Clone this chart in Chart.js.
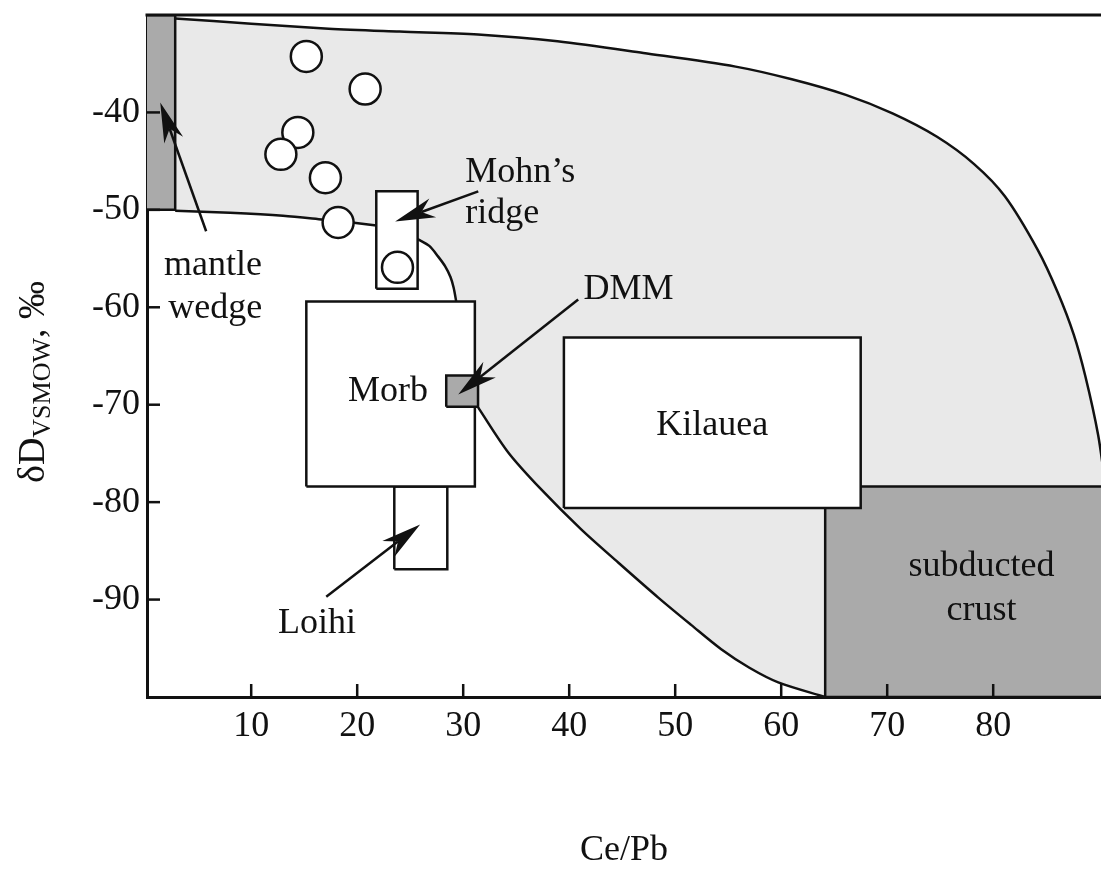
<!DOCTYPE html>
<html>
<head>
<meta charset="utf-8">
<script src="https://cdn.jsdelivr.net/npm/chart.js@4.4.1/dist/chart.umd.min.js"></script>
<style>
  html, body { margin: 0; padding: 0; background: #fff; overflow: hidden; }
  #wrap { width: 1101px; height: 869px; }
  canvas { display: block; }
</style>
</head>
<body>
<div id="wrap"><canvas id="chart" width="1101" height="869"></canvas></div>
<script>
const SERIF = '"Liberation Serif", "Times New Roman", serif';
const LIGHT = '#e9e9e9';
const DARK = '#aaaaaa';
const INK = '#111111';

const xTicks = [10, 20, 30, 40, 50, 60, 70, 80];
const yTicks = [-40, -50, -60, -70, -80, -90];

// outline of the shaded field, read as [Ce/Pb, dD]
const upperCurve = [[2.83, -30.35], [10, -30.9], [17.3, -31.4], [24, -31.7], [31.4, -32.0], [38.9, -32.7],
  [47, -33.9], [55.7, -35.3], [61, -36.6], [66.1, -38.2], [70.5, -40.1], [74.7, -42.5], [78.2, -45.3],
  [81.1, -48.6], [84.2, -54.1], [86.1, -58.5], [87.6, -62.8], [88.7, -67.1], [89.9, -73.1], [90.6, -78.4]];
const wedgeLine = [[2.83, -50.1], [8, -50.3], [13, -50.6], [16.8, -51.0], [19.5, -51.3], [21.8, -51.6]];
const mohnCurve = [[25.7, -53.0], [26.8, -53.7], [27.64, -54.8], [28.3, -55.8], [28.8, -56.9], [29.1, -58.0], [29.34, -59.4]];
const dmmCurve = [[31.42, -70.3], [34.25, -74.9], [37.36, -78.7], [41.13, -82.8], [44.62, -86.2], [48.4, -89.8],
  [51.5, -92.6], [54.34, -95.1], [57, -97.0], [59.72, -98.5], [64.15, -100]];

// fields as [xmin, xmax, ymin, ymax]
const mantleWedge = [0, 2.83, -50, -30];
const mohnBox = [21.8, 25.7, -58.1, -48.1];
const morbBox = [15.2, 31.1, -78.4, -59.4];
const loihiBox = [23.5, 28.5, -86.9, -78.4];
const dmmBox = [28.4, 31.4, -70.2, -67.0];
const kilaueaBox = [39.5, 67.5, -80.6, -63.1];
const crustBox = [64.15, 92, -100, -78.4];

// individual samples
const sampleX = [15.2, 20.75, 14.4, 12.8, 17.0, 18.2, 23.8];
const sampleY = [-34.25, -37.6, -42.05, -44.3, -46.7, -51.3, -55.9];

// pointer arrows: [tail x, tail y, tip x, tip y]
const arrows = [
  [5.75, -52.2, 1.42, -38.97],
  [31.42, -48.1, 23.58, -51.2],
  [40.85, -59.2, 29.53, -68.95],
  [17.08, -89.7, 25.94, -82.3]
];

// labels: [text, x, y(baseline), align]
const notes = [
  ['mantle', 6.4, -56.7, 'center'],
  ['wedge', 6.6, -61.05, 'center'],
  ['Mohn\u2019s', 30.2, -47.1, 'left'],
  ['ridge', 30.2, -51.3, 'left'],
  ['DMM', 45.6, -59.2, 'center'],
  ['Morb', 22.9, -69.6, 'center'],
  ['Kilauea', 53.5, -73.1, 'center'],
  ['Loihi', 16.2, -93.4, 'center'],
  ['subducted', 78.9, -87.6, 'center'],
  ['crust', 78.9, -92.05, 'center']
];

const pts = a => a.map(([x, y]) => ({ x, y }));
const rect = ([x0, x1, y0, y1]) => [
  { x: x0, y: y0 }, { x: x1, y: y0 }, { x: x1, y: y1 }, { x: x0, y: y1 }, { x: x0, y: y0 }
];
const rev = a => a.slice().reverse();

const fieldShape = pts([...upperCurve, [90.6, -100], ...rev(dmmCurve), ...rev(mohnCurve), ...rev(wedgeLine), upperCurve[0]]);

function boxSet(b, color, order) {
  return {
    data: rect(b), fill: 'shape', backgroundColor: color, borderColor: INK, borderWidth: 2.5,
    borderJoinStyle: 'miter', pointRadius: 0, tension: 0, order
  };
}
function curveSet(a, order) {
  return { data: pts(a), fill: false, borderColor: INK, borderWidth: 2.5, pointRadius: 0, tension: 0.3, order };
}

// keep the plot area flush with the frame: no extra room for edge labels
function noEdgePadding(s) {
  s.paddingTop = 0;
  s.paddingBottom = 0;
  s.paddingLeft = 0;
  s.paddingRight = 0;
}

function drawArrow(ctx, x1, y1, x2, y2) {
  const len = Math.hypot(x2 - x1, y2 - y1);
  const ux = (x2 - x1) / len, uy = (y2 - y1) / len;
  const nx = -uy, ny = ux;
  const L = 40, W = 10, notch = 28;
  ctx.lineWidth = 2.5;
  ctx.beginPath();
  ctx.moveTo(x1, y1);
  ctx.lineTo(x2 - ux * notch, y2 - uy * notch);
  ctx.stroke();
  ctx.beginPath();
  ctx.moveTo(x2, y2);
  ctx.lineTo(x2 - ux * L + nx * W, y2 - uy * L + ny * W);
  ctx.lineTo(x2 - ux * notch, y2 - uy * notch);
  ctx.lineTo(x2 - ux * L - nx * W, y2 - uy * L - ny * W);
  ctx.closePath();
  ctx.fill();
}

const overlay = {
  id: 'overlay',
  afterDraw(chart) {
    const { ctx, chartArea: area, scales: { x, y } } = chart;
    ctx.save();
    ctx.strokeStyle = INK;
    ctx.fillStyle = INK;

    // frame top and inward tick marks
    ctx.lineWidth = 3;
    ctx.beginPath();
    ctx.moveTo(area.left - 1.5, area.top);
    ctx.lineTo(area.right + 2, area.top);
    ctx.stroke();
    ctx.lineWidth = 2.5;
    xTicks.forEach(v => {
      const px = x.getPixelForValue(v);
      ctx.beginPath();
      ctx.moveTo(px, area.bottom);
      ctx.lineTo(px, area.bottom - 13);
      ctx.stroke();
    });
    yTicks.forEach(v => {
      const py = y.getPixelForValue(v);
      ctx.beginPath();
      ctx.moveTo(area.left, py);
      ctx.lineTo(area.left + 13, py);
      ctx.stroke();
    });

    arrows.forEach(([a, b, c, d]) => drawArrow(ctx,
      x.getPixelForValue(a), y.getPixelForValue(b), x.getPixelForValue(c), y.getPixelForValue(d)));

    ctx.font = '36px ' + SERIF;
    ctx.textBaseline = 'alphabetic';
    notes.forEach(([t, a, b, al]) => {
      ctx.textAlign = al;
      ctx.fillText(t, x.getPixelForValue(a), y.getPixelForValue(b));
    });

    // y axis title with subscript
    ctx.translate(44, 382);
    ctx.rotate(-Math.PI / 2);
    ctx.textAlign = 'left';
    const big = '38px ' + SERIF, small = '26px ' + SERIF;
    ctx.font = big;
    const w1 = ctx.measureText('\u03b4D').width;
    const w3 = ctx.measureText(', \u2030').width;
    ctx.font = small;
    const w2 = ctx.measureText('VSMOW').width;
    let s = -(w1 + w2 + w3) / 2;
    ctx.font = big;
    ctx.fillText('\u03b4D', s, 0);
    ctx.font = small;
    ctx.fillText('VSMOW', s + w1, 6);
    ctx.font = big;
    ctx.fillText(', \u2030', s + w1 + w2, 0);
    ctx.restore();
  }
};

new Chart(document.getElementById('chart'), {
  type: 'line',
  data: {
    datasets: [
      { data: fieldShape, fill: 'shape', backgroundColor: LIGHT, borderWidth: 0, pointRadius: 0, tension: 0, order: 20 },
      curveSet(upperCurve, 19),
      curveSet(wedgeLine, 19),
      curveSet(mohnCurve, 19),
      curveSet(dmmCurve, 19),
      boxSet(mantleWedge, DARK, 10),
      boxSet(mohnBox, '#ffffff', 9),
      boxSet(loihiBox, '#ffffff', 9),
      boxSet(morbBox, '#ffffff', 8),
      boxSet(dmmBox, DARK, 7),
      boxSet(crustBox, DARK, 7),
      boxSet(kilaueaBox, '#ffffff', 6),
      {
        data: sampleX.map((v, i) => ({ x: v, y: sampleY[i] })), showLine: false,
        pointRadius: 15.5, pointBackgroundColor: '#ffffff', pointBorderColor: INK, pointBorderWidth: 2.5, order: 1
      }
    ]
  },
  options: {
    responsive: false,
    animation: false,
    devicePixelRatio: 1,
    layout: { autoPadding: false, padding: { top: 15, right: 0, left: 0, bottom: 0 } },
    plugins: { legend: { display: false }, tooltip: { enabled: false } },
    scales: {
      x: {
        type: 'linear', min: 0.17, max: 90.17, z: 1,
        afterBuildTicks: s => { s.ticks = xTicks.map(v => ({ value: v })); },
        afterFit: s => { s.height = 172; noEdgePadding(s); },
        grid: { display: false, drawTicks: false },
        border: { display: true, color: INK, width: 3 },
        ticks: { color: INK, padding: 8, font: { family: SERIF, size: 36 } },
        title: { display: true, text: 'Ce/Pb', color: INK, font: { family: SERIF, size: 36, lineHeight: 1 }, padding: { top: 0, bottom: 0 } }
      },
      y: {
        type: 'linear', min: -100, max: -30, z: 1,
        afterBuildTicks: s => { s.ticks = yTicks.map(v => ({ value: v })); },
        afterFit: s => { s.width = 147; noEdgePadding(s); },
        grid: { display: false, drawTicks: false },
        border: { display: true, color: INK, width: 3 },
        ticks: { color: INK, padding: 7, font: { family: SERIF, size: 36 } }
      }
    }
  },
  plugins: [overlay]
});
</script>
</body>
</html>
